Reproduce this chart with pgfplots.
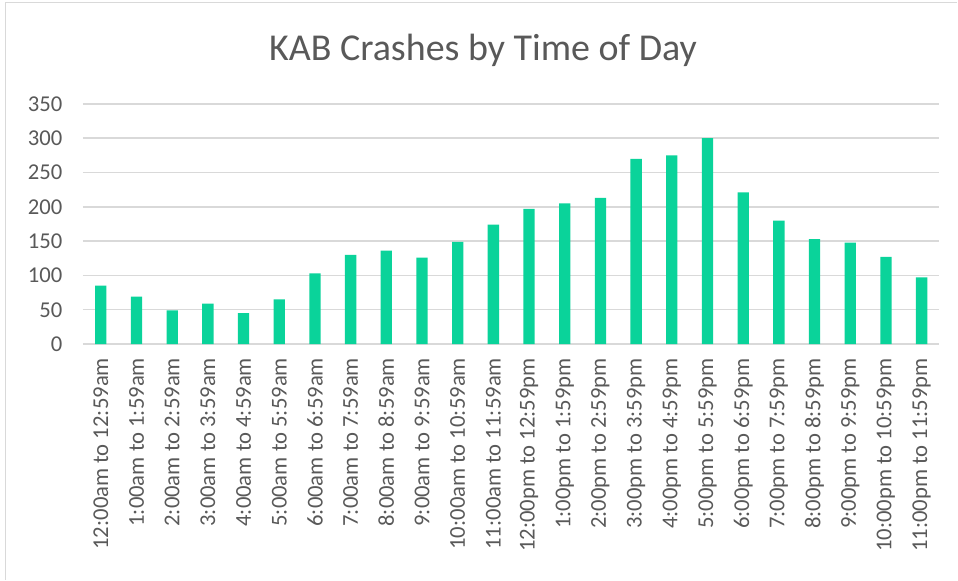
\documentclass[border=0pt]{standalone}
\usepackage{fontspec}
\setmainfont{Carlito}
\usepackage{pgfplots}
\pgfplotsset{compat=1.18}
\definecolor{bargreen}{HTML}{0AD39A}
\definecolor{txtgray}{HTML}{595959}
\definecolor{gridgray}{HTML}{D9D9D9}
\definecolor{framegray}{HTML}{D9D9D9}
\begin{document}
\begin{tikzpicture}
\begin{axis}[
  scale only axis,
  width=642.75pt, height=180.2pt,
  clip=false,
  ymin=0, ymax=350,
  ytick={0,50,...,350},
  xmin=-0.5, xmax=23.5,
  xtick={0,...,23},
  xticklabels={12:00am to 12:59am,1:00am to 1:59am,2:00am to 2:59am,3:00am to 3:59am,4:00am to 4:59am,5:00am to 5:59am,6:00am to 6:59am,7:00am to 7:59am,8:00am to 8:59am,9:00am to 9:59am,10:00am to 10:59am,11:00am to 11:59am,12:00pm to 12:59pm,1:00pm to 1:59pm,2:00pm to 2:59pm,3:00pm to 3:59pm,4:00pm to 4:59pm,5:00pm to 5:59pm,6:00pm to 6:59pm,7:00pm to 7:59pm,8:00pm to 8:59pm,9:00pm to 9:59pm,10:00pm to 10:59pm,11:00pm to 11:59pm},
  xticklabel style={rotate=90, anchor=east, font=\fontsize{17}{20}\selectfont, text=txtgray, xshift=-7pt},
  yticklabel style={font=\fontsize{17}{20}\selectfont, text=txtgray, xshift=-12pt},
  /pgf/number format/assume math mode=true,
  axis line style={draw=none},
  major tick length=0pt,
  ymajorgrids,
  grid style={gridgray, line width=1.1pt},
]
\addplot[ybar, bar width=8.5pt, fill=bargreen, draw=none] coordinates {
(0,85) (1,69) (2,49) (3,59) (4,45) (5,65) (6,103) (7,130) (8,136) (9,126) (10,149) (11,174)
(12,197) (13,205) (14,213) (15,270) (16,275) (17,300) (18,221) (19,180) (20,153) (21,148) (22,127) (23,97)
};
\node[font=\fontsize{28.5}{32}\selectfont, text=txtgray] at (rel axis cs:0.467,1.2247) {KAB Crashes by Time of Day};
\coordinate (bl) at (rel axis cs:-0.0969,-0.981);
\coordinate (tr) at (rel axis cs:1.0210,1.4328);
\coordinate (fl) at (rel axis cs:-0.0910,-0.981);
\coordinate (ft) at (rel axis cs:1.0210,1.4225);
\end{axis}
\path (bl) rectangle (tr);
\draw[framegray, line width=0.8pt] (fl) |- (ft);
\end{tikzpicture}
\end{document}
